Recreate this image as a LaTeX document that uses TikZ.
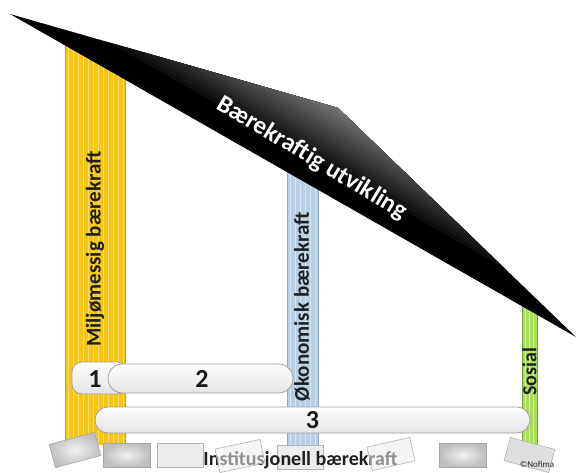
\documentclass[tikz,border=0pt]{standalone}
\usepackage{fontspec}
\setmainfont{Carlito}
\definecolor{ylw}{HTML}{F5C518}
\definecolor{ylwS}{HTML}{FBDD6B}
\definecolor{ylwB}{HTML}{C9A227}
\definecolor{blu}{HTML}{B9CFE6}
\definecolor{bluS}{HTML}{D5E3F2}
\definecolor{bluB}{HTML}{8EA9C9}
\definecolor{grn}{HTML}{A8DC5A}
\definecolor{grnS}{HTML}{D8F0A8}
\definecolor{grnB}{HTML}{6FA23A}
\definecolor{rfA}{HTML}{0D0D0D}
\definecolor{rfB}{HTML}{151515}
\definecolor{rfC}{HTML}{1C1C1C}
\definecolor{rfD}{HTML}{242424}
\definecolor{rfE}{HTML}{2B2B2B}
\definecolor{rfF}{HTML}{333333}
\definecolor{rfG}{HTML}{3B3B3B}
\definecolor{rfH}{HTML}{424242}
\definecolor{rfI}{HTML}{4A4A4A}
\definecolor{rfJ}{HTML}{525252}
\definecolor{rfK}{HTML}{595959}
\definecolor{rfL}{HTML}{616161}
\definecolor{rfM}{HTML}{686868}
\definecolor{rfN}{HTML}{707070}
\begin{document}
\begin{tikzpicture}[x=1pt,y=-1pt,
  bar/.style={draw=gray!75, line width=0.8pt, top color=white, bottom color=gray!22, inner sep=0pt},
  numlabel/.style={anchor=base, inner sep=0pt, font=\bfseries\fontsize{26}{26}\selectfont, text=black!90},
  collabel/.style={rotate=90, font=\bfseries\fontsize{21}{21}\selectfont, text=black!88},
  blkdark/.style={draw=gray!70, line width=0.6pt, inner color=gray!12, outer color=gray!50,
    minimum width=47pt, minimum height=24pt, inner sep=0pt},
  blklight/.style={draw=gray!60, line width=0.6pt, fill=gray!15,
    minimum width=46pt, minimum height=24pt, inner sep=0pt},
  ]
\useasboundingbox (0,0) rectangle (580,472);

% yellow column
\begin{scope}
\clip (65,42) -- (125,76) -- (125,445) -- (65,445) -- cycle;
\fill[ylw] (60,30) rectangle (130,450);
\foreach \x in {68,73,...,123} \draw[ylwS, line width=0.9pt] (\x,30) -- (\x,450);
\end{scope}
\draw[ylwB, line width=0.6pt] (65,42) -- (65,445) (125,76) -- (125,445);

% blue column
\begin{scope}
\clip (287,166) -- (318,184) -- (318,445) -- (287,445) -- cycle;
\fill[blu] (280,150) rectangle (325,450);
\foreach \x in {290,295,...,316} \draw[bluS, line width=0.9pt] (\x,150) -- (\x,450);
\end{scope}
\draw[bluB, line width=0.6pt] (287,166) -- (287,445) (318,184) -- (318,445);

% green column
\begin{scope}
\clip (522,302) -- (537,311) -- (537,445) -- (522,445) -- cycle;
\fill[grn] (515,290) rectangle (545,450);
\foreach \x in {525,529,533} \draw[grnS, line width=0.9pt] (\x,290) -- (\x,450);
\end{scope}
\draw[grnB, line width=0.6pt] (522,302) -- (522,445) (537,311) -- (537,445);

% roof: black, lightening in nested steps towards the upper corner
\fill[black] (10,14) -- (338,108) -- (576,337) -- cycle;
\fill[rfA] (108.4,42.2) -- (338,108) -- (504.6,268.3) -- cycle;
\fill[rfB] (124.8,46.9) -- (338,108) -- (492.7,256.85) -- cycle;
\fill[rfC] (141.2,51.6) -- (338,108) -- (480.8,245.4) -- cycle;
\fill[rfD] (157.6,56.3) -- (338,108) -- (468.9,233.95) -- cycle;
\fill[rfE] (174,61) -- (338,108) -- (457,222.5) -- cycle;
\fill[rfF] (190.4,65.7) -- (338,108) -- (445.1,211.05) -- cycle;
\fill[rfG] (206.8,70.4) -- (338,108) -- (433.2,199.6) -- cycle;
\fill[rfH] (223.2,75.1) -- (338,108) -- (421.3,188.15) -- cycle;
\fill[rfI] (239.6,79.8) -- (338,108) -- (409.4,176.7) -- cycle;
\fill[rfJ] (256,84.5) -- (338,108) -- (397.5,165.25) -- cycle;
\fill[rfK] (272.4,89.2) -- (338,108) -- (385.6,153.8) -- cycle;
\fill[rfL] (288.8,93.9) -- (338,108) -- (373.7,142.35) -- cycle;
\fill[rfM] (305.2,98.6) -- (338,108) -- (361.8,130.9) -- cycle;
\fill[rfN] (321.6,103.3) -- (338,108) -- (349.9,119.45) -- cycle;
\node[text=white, font=\bfseries\fontsize{25}{25}\selectfont, rotate=-31] (roofT) at (312,158) {Bærekraftig utvikling};

% column labels
\node[collabel] (envT) at (95,249) {Miljømessig bærekraft};
\node[collabel] (ecoT) at (302,306.5) {Økonomisk bærekraft};
\node[collabel, font=\bfseries\fontsize{20}{20}\selectfont] (socT) at (529.5,372) {Sosial};

% bars
\node[bar, rounded corners=10pt, minimum width=55pt, minimum height=32pt] (b1) at (99.5,378) {};
\node[numlabel] (b1t) at (95,387) {1};
\node[bar, rounded corners=14.5pt, minimum width=185pt, minimum height=29pt] (b2) at (200.5,378.5) {};
\node[numlabel] (b2t) at (202,387) {2};
\node[bar, rounded corners=13pt, minimum width=435pt, minimum height=26pt] (b3) at (312.5,420) {};
\node[numlabel] (b3t) at (312.5,428.5) {3};

% foundation
\node[blkdark, rotate=15] (fA) at (75,450) {};
\node[blkdark] (fB) at (126.5,455) {};
\node[blklight] (fC) at (180.5,455) {};
\node[blklight] (fE) at (300,457) {};
\node[anchor=base, inner sep=0pt, font=\bfseries\fontsize{20}{20}\selectfont, text=gray!25!black] (instT) at (300.5,465) {Institusjonell bærekraft};
\node[blklight, rotate=12, fill opacity=0.55] (fD) at (240,456) {};
\node[blklight, rotate=13, fill opacity=0.55, minimum width=44pt] (fF) at (391,454) {};
\node[blkdark] (fG) at (463,455) {};
\node[blklight, rotate=-15, fill=gray!25] (fH) at (529.5,455) {};
\node[font=\fontsize{9}{9}\selectfont, text=gray!30!black, inner sep=0pt] (nof) at (537,464) {©Nofima};
\end{tikzpicture}
\end{document}
